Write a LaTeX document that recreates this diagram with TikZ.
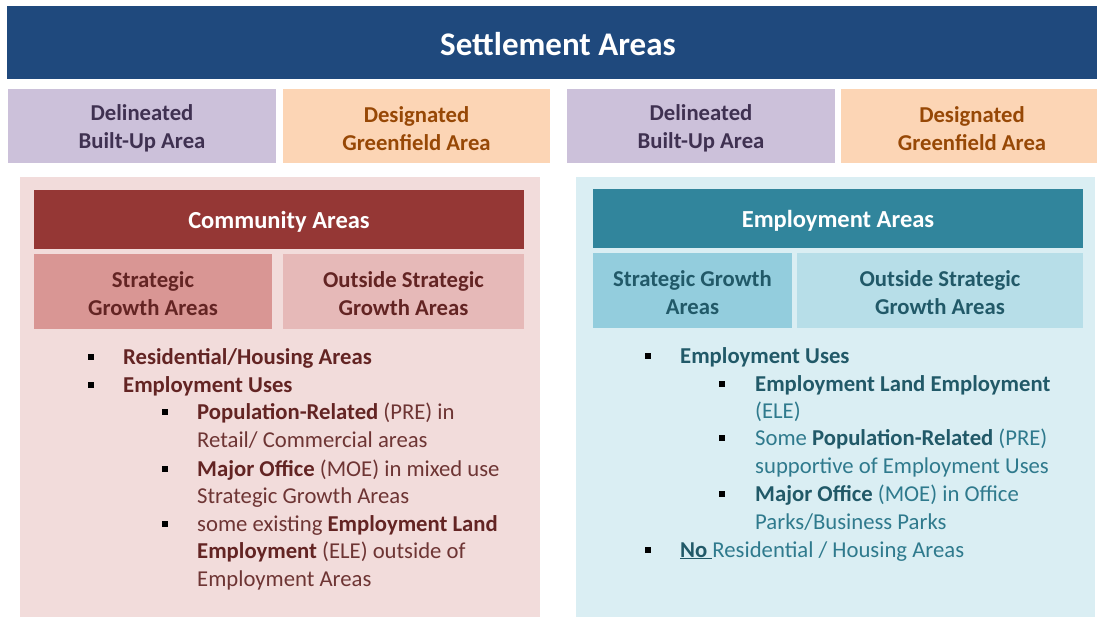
\documentclass[tikz,border=0pt]{standalone}
\usepackage{fontspec}
\setmainfont{Carlito}
\definecolor{hdrblue}{HTML}{1F497D}
\definecolor{lav}{HTML}{CCC1DA}
\definecolor{lavtxt}{HTML}{3F3151}
\definecolor{peach}{HTML}{FCD5B5}
\definecolor{peachtxt}{HTML}{974806}
\definecolor{pinkbg}{HTML}{F2DCDB}
\definecolor{redhdr}{HTML}{953735}
\definecolor{redmid}{HTML}{D99694}
\definecolor{redlight}{HTML}{E6B9B8}
\definecolor{redtxt}{HTML}{632423}
\definecolor{redtxtn}{HTML}{6E3534}
\definecolor{bluebg}{HTML}{DAEEF3}
\definecolor{tealhdr}{HTML}{31859C}
\definecolor{tealmid}{HTML}{93CDDD}
\definecolor{teallight}{HTML}{B7DEE8}
\definecolor{tealtxt}{HTML}{215968}
\definecolor{tealtxtn}{HTML}{2F7A8D}
\tikzset{
  fillbox/.style={inner sep=0},
  boxtxt/.style={inner sep=0, align=center, font=\fontsize{22.7}{28}\selectfont\bfseries},
  hdrtxt/.style={inner sep=0, text=white, font=\fontsize{24.5}{28}\selectfont\bfseries},
  bul/.style={fill=black, minimum size=5.5pt, inner sep=0},
  lnL/.style={anchor=west, inner sep=0, text height=15pt, text depth=1pt, text=redtxtn, font=\fontsize{22.7}{27}\selectfont},
  lnR/.style={anchor=west, inner sep=0, text height=15pt, text depth=1pt, text=tealtxtn, font=\fontsize{22.7}{27}\selectfont}
}
\newcommand{\bL}[1]{\textbf{\textcolor{redtxt}{#1}}}
\newcommand{\bR}[1]{\textbf{\textcolor{tealtxt}{#1}}}
\begin{document}
\begin{tikzpicture}[x=1pt,y=-1pt]
\useasboundingbox[fill=white] (0,0) rectangle (1097,617);
% header
\node[fillbox, fill=hdrblue, minimum width=1090, minimum height=73] (title) at (552,42.5) {};
\node[text=white, font=\fontsize{33}{36}\selectfont\bfseries, inner sep=0] (titletxt) at (558,44) {Settlement Areas};
% second row
\node[fillbox, fill=lav, minimum width=268, minimum height=74] (d1) at (142,126) {};
\node[boxtxt, text=lavtxt] (d1t) at (142,128.5) {Delineated\\Built-Up Area};
\node[fillbox, fill=peach, minimum width=267, minimum height=74] (g1) at (416.5,126) {};
\node[boxtxt, text=peachtxt] (g1t) at (416.5,128.5) {Designated\\Greenfield Area};
\node[fillbox, fill=lav, minimum width=268, minimum height=74] (d2) at (701,126) {};
\node[boxtxt, text=lavtxt] (d2t) at (701,128.5) {Delineated\\Built-Up Area};
\node[fillbox, fill=peach, minimum width=256, minimum height=74] (g2) at (969,126) {};
\node[boxtxt, text=peachtxt] (g2t) at (972,128.5) {Designated\\Greenfield Area};
% panels
\node[fillbox, fill=pinkbg, minimum width=520, minimum height=440] (lpanel) at (280,397) {};
\node[fillbox, fill=bluebg, minimum width=519, minimum height=440] (rpanel) at (835.5,397) {};
% community
\node[fillbox, fill=redhdr, minimum width=490, minimum height=59] (comm) at (279,219.5) {};
\node[hdrtxt] (commt) at (279,222) {Community Areas};
\node[fillbox, fill=redmid, minimum width=238, minimum height=75] (csga) at (153,291.5) {};
\node[boxtxt, text=redtxt] (csgat) at (153,294) {Strategic\\Growth Areas};
\node[fillbox, fill=redlight, minimum width=241, minimum height=75] (cosga) at (403.5,291.5) {};
\node[boxtxt, text=redtxt] (cosgat) at (403.5,294) {Outside Strategic\\Growth Areas};
% employment
\node[fillbox, fill=tealhdr, minimum width=490, minimum height=59] (emp) at (838,218.5) {};
\node[hdrtxt] (empt) at (838,221) {Employment Areas};
\node[fillbox, fill=tealmid, minimum width=199, minimum height=75] (esga) at (692.5,290.5) {};
\node[boxtxt, text=tealtxt] (esgat) at (692.5,293) {Strategic Growth\\Areas};
\node[fillbox, fill=teallight, minimum width=286, minimum height=75] (eosga) at (940,290.5) {};
\node[boxtxt, text=tealtxt] (eosgat) at (940,293) {Outside Strategic\\Growth Areas};
% left bullets
\node[bul] (lb1) at (91,357) {};
\node[bul] (lb2) at (91,385) {};
\node[bul] (lb3) at (165,412) {};
\node[bul] (lb4) at (165,469) {};
\node[bul] (lb5) at (165,524) {};
\node[lnL] (lt1) at (123,357) {\bL{Residential/Housing Areas}};
\node[lnL] (lt2) at (123,385) {\bL{Employment Uses}};
\node[lnL] (lt3) at (197,412) {\bL{Population-Related} (PRE) in};
\node[lnL] (lt4) at (197,440) {Retail/ Commercial areas};
\node[lnL] (lt5) at (197,469) {\bL{Major Office} (MOE) in mixed use};
\node[lnL] (lt6) at (197,496) {Strategic Growth Areas};
\node[lnL] (lt7) at (197,524) {some existing \bL{Employment Land}};
\node[lnL] (lt8) at (197,551) {\bL{Employment} (ELE) outside of};
\node[lnL] (lt9) at (197,579) {Employment Areas};
% right bullets
\node[bul] (rb1) at (648,356) {};
\node[bul] (rb2) at (722,384) {};
\node[bul] (rb3) at (722,438) {};
\node[bul] (rb4) at (722,494) {};
\node[bul] (rb5) at (648,550) {};
\node[lnR] (rt1) at (680,356) {\bR{Employment Uses}};
\node[lnR] (rt2) at (755,384) {\bR{Employment Land Employment}};
\node[lnR] (rt3) at (755,411) {(ELE)};
\node[lnR] (rt4) at (755,438) {Some \bR{Population-Related} (PRE)};
\node[lnR] (rt5) at (755,466) {supportive of Employment Uses};
\node[lnR] (rt6) at (755,494) {\bR{Major Office} (MOE) in Office};
\node[lnR] (rt7) at (755,522) {Parks/Business Parks};
\node[lnR] (rt8) at (680,550) {\bR{\underline{No\ }}Residential / Housing Areas};
\end{tikzpicture}
\end{document}
